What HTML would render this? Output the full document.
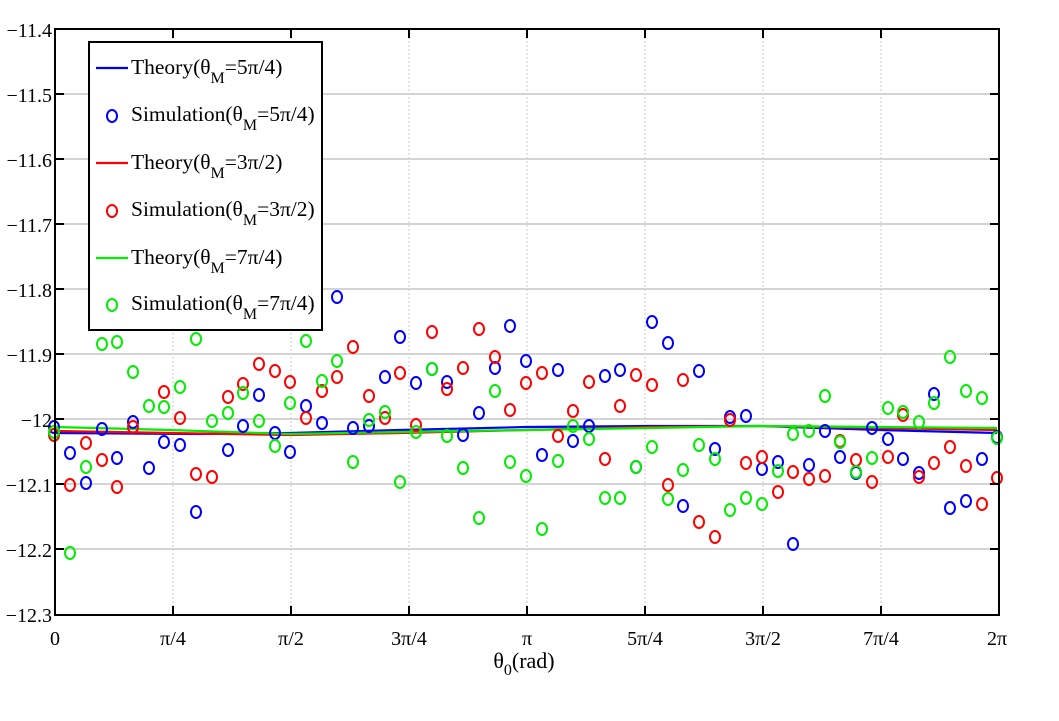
<!DOCTYPE html>
<html><head><meta charset="utf-8"><style>
html,body{margin:0;padding:0;background:#fff;}
svg{display:block;font-family:"Liberation Serif",serif;}
</style></head><body>
<svg width="1059" height="721" viewBox="0 0 1059 721" xmlns="http://www.w3.org/2000/svg">
<rect width="1059" height="721" fill="#fff"/>
<g stroke="#c8c8c8" stroke-width="1" stroke-dasharray="2,2">
<line x1="173" y1="29" x2="173" y2="615"/><line x1="291" y1="29" x2="291" y2="615"/><line x1="409" y1="29" x2="409" y2="615"/><line x1="527" y1="29" x2="527" y2="615"/><line x1="645" y1="29" x2="645" y2="615"/><line x1="763" y1="29" x2="763" y2="615"/><line x1="881" y1="29" x2="881" y2="615"/>
</g>
<g stroke="#d4d4d4" stroke-width="2">
<line x1="55" y1="94" x2="999" y2="94"/><line x1="55" y1="159" x2="999" y2="159"/><line x1="55" y1="224" x2="999" y2="224"/><line x1="55" y1="289" x2="999" y2="289"/><line x1="55" y1="354" x2="999" y2="354"/><line x1="55" y1="419" x2="999" y2="419"/><line x1="55" y1="484" x2="999" y2="484"/><line x1="55" y1="549" x2="999" y2="549"/>
</g>
<g fill="none" stroke-width="2.2">
<polyline stroke="#0000ff" points="55,433 200,434 290,433 400,430 527,427 650,426 760,426 880,430 997,433"/>
<polyline stroke="#ff0000" points="55,431 170,433 290,435 400,433 527,430 650,427 760,426 880,428 997,430"/>
<polyline stroke="#00ee00" points="55,427 170,430 290,434 400,432 527,430 650,428 760,426 880,427 997,428"/>
</g>
<g fill="none" stroke="#0000ff" stroke-width="2">
<ellipse cx="54" cy="427" rx="5" ry="6"/><ellipse cx="70" cy="453" rx="5" ry="6"/><ellipse cx="86" cy="483" rx="5" ry="6"/><ellipse cx="102" cy="429" rx="5" ry="6"/><ellipse cx="117" cy="458" rx="5" ry="6"/><ellipse cx="133" cy="422" rx="5" ry="6"/><ellipse cx="149" cy="468" rx="5" ry="6"/><ellipse cx="164" cy="442" rx="5" ry="6"/><ellipse cx="180" cy="445" rx="5" ry="6"/><ellipse cx="196" cy="512" rx="5" ry="6"/><ellipse cx="228" cy="450" rx="5" ry="6"/><ellipse cx="243" cy="426" rx="5" ry="6"/><ellipse cx="259" cy="395" rx="5" ry="6"/><ellipse cx="275" cy="433" rx="5" ry="6"/><ellipse cx="290" cy="452" rx="5" ry="6"/><ellipse cx="306" cy="406" rx="5" ry="6"/><ellipse cx="322" cy="423" rx="5" ry="6"/><ellipse cx="337" cy="297" rx="5" ry="6"/><ellipse cx="353" cy="428" rx="5" ry="6"/><ellipse cx="369" cy="426" rx="5" ry="6"/><ellipse cx="385" cy="377" rx="5" ry="6"/><ellipse cx="400" cy="337" rx="5" ry="6"/><ellipse cx="416" cy="383" rx="5" ry="6"/><ellipse cx="432" cy="369" rx="5" ry="6"/><ellipse cx="447" cy="382" rx="5" ry="6"/><ellipse cx="463" cy="435" rx="5" ry="6"/><ellipse cx="479" cy="413" rx="5" ry="6"/><ellipse cx="495" cy="368" rx="5" ry="6"/><ellipse cx="510" cy="326" rx="5" ry="6"/><ellipse cx="526" cy="361" rx="5" ry="6"/><ellipse cx="542" cy="455" rx="5" ry="6"/><ellipse cx="558" cy="370" rx="5" ry="6"/><ellipse cx="573" cy="441" rx="5" ry="6"/><ellipse cx="589" cy="426" rx="5" ry="6"/><ellipse cx="605" cy="376" rx="5" ry="6"/><ellipse cx="620" cy="370" rx="5" ry="6"/><ellipse cx="636" cy="467" rx="5" ry="6"/><ellipse cx="652" cy="322" rx="5" ry="6"/><ellipse cx="668" cy="343" rx="5" ry="6"/><ellipse cx="683" cy="506" rx="5" ry="6"/><ellipse cx="699" cy="371" rx="5" ry="6"/><ellipse cx="715" cy="449" rx="5" ry="6"/><ellipse cx="730" cy="417" rx="5" ry="6"/><ellipse cx="746" cy="416" rx="5" ry="6"/><ellipse cx="762" cy="469" rx="5" ry="6"/><ellipse cx="778" cy="462" rx="5" ry="6"/><ellipse cx="793" cy="544" rx="5" ry="6"/><ellipse cx="809" cy="465" rx="5" ry="6"/><ellipse cx="825" cy="431" rx="5" ry="6"/><ellipse cx="840" cy="457" rx="5" ry="6"/><ellipse cx="856" cy="473" rx="5" ry="6"/><ellipse cx="872" cy="428" rx="5" ry="6"/><ellipse cx="888" cy="439" rx="5" ry="6"/><ellipse cx="903" cy="459" rx="5" ry="6"/><ellipse cx="919" cy="473" rx="5" ry="6"/><ellipse cx="934" cy="394" rx="5" ry="6"/><ellipse cx="950" cy="508" rx="5" ry="6"/><ellipse cx="966" cy="501" rx="5" ry="6"/><ellipse cx="982" cy="459" rx="5" ry="6"/><ellipse cx="997" cy="437" rx="5" ry="6"/>
</g>
<g fill="none" stroke="#ff0000" stroke-width="2">
<ellipse cx="54" cy="435" rx="5" ry="6"/><ellipse cx="70" cy="485" rx="5" ry="6"/><ellipse cx="86" cy="443" rx="5" ry="6"/><ellipse cx="102" cy="460" rx="5" ry="6"/><ellipse cx="117" cy="487" rx="5" ry="6"/><ellipse cx="133" cy="427" rx="5" ry="6"/><ellipse cx="164" cy="392" rx="5" ry="6"/><ellipse cx="180" cy="418" rx="5" ry="6"/><ellipse cx="196" cy="474" rx="5" ry="6"/><ellipse cx="212" cy="477" rx="5" ry="6"/><ellipse cx="228" cy="397" rx="5" ry="6"/><ellipse cx="243" cy="384" rx="5" ry="6"/><ellipse cx="259" cy="364" rx="5" ry="6"/><ellipse cx="275" cy="371" rx="5" ry="6"/><ellipse cx="290" cy="382" rx="5" ry="6"/><ellipse cx="306" cy="418" rx="5" ry="6"/><ellipse cx="322" cy="391" rx="5" ry="6"/><ellipse cx="337" cy="377" rx="5" ry="6"/><ellipse cx="353" cy="347" rx="5" ry="6"/><ellipse cx="369" cy="396" rx="5" ry="6"/><ellipse cx="385" cy="418" rx="5" ry="6"/><ellipse cx="400" cy="373" rx="5" ry="6"/><ellipse cx="416" cy="425" rx="5" ry="6"/><ellipse cx="432" cy="332" rx="5" ry="6"/><ellipse cx="447" cy="389" rx="5" ry="6"/><ellipse cx="463" cy="368" rx="5" ry="6"/><ellipse cx="479" cy="329" rx="5" ry="6"/><ellipse cx="495" cy="357" rx="5" ry="6"/><ellipse cx="510" cy="410" rx="5" ry="6"/><ellipse cx="526" cy="383" rx="5" ry="6"/><ellipse cx="542" cy="373" rx="5" ry="6"/><ellipse cx="558" cy="436" rx="5" ry="6"/><ellipse cx="573" cy="411" rx="5" ry="6"/><ellipse cx="589" cy="382" rx="5" ry="6"/><ellipse cx="605" cy="459" rx="5" ry="6"/><ellipse cx="620" cy="406" rx="5" ry="6"/><ellipse cx="636" cy="375" rx="5" ry="6"/><ellipse cx="652" cy="385" rx="5" ry="6"/><ellipse cx="668" cy="485" rx="5" ry="6"/><ellipse cx="683" cy="380" rx="5" ry="6"/><ellipse cx="699" cy="522" rx="5" ry="6"/><ellipse cx="715" cy="537" rx="5" ry="6"/><ellipse cx="730" cy="420" rx="5" ry="6"/><ellipse cx="746" cy="463" rx="5" ry="6"/><ellipse cx="762" cy="457" rx="5" ry="6"/><ellipse cx="778" cy="492" rx="5" ry="6"/><ellipse cx="793" cy="472" rx="5" ry="6"/><ellipse cx="809" cy="479" rx="5" ry="6"/><ellipse cx="825" cy="476" rx="5" ry="6"/><ellipse cx="840" cy="441" rx="5" ry="6"/><ellipse cx="856" cy="460" rx="5" ry="6"/><ellipse cx="872" cy="482" rx="5" ry="6"/><ellipse cx="888" cy="457" rx="5" ry="6"/><ellipse cx="903" cy="415" rx="5" ry="6"/><ellipse cx="919" cy="477" rx="5" ry="6"/><ellipse cx="934" cy="463" rx="5" ry="6"/><ellipse cx="950" cy="447" rx="5" ry="6"/><ellipse cx="966" cy="466" rx="5" ry="6"/><ellipse cx="982" cy="504" rx="5" ry="6"/><ellipse cx="997" cy="478" rx="5" ry="6"/>
</g>
<g fill="none" stroke="#00ee00" stroke-width="2">
<ellipse cx="54" cy="432" rx="5" ry="6"/><ellipse cx="70" cy="553" rx="5" ry="6"/><ellipse cx="86" cy="467" rx="5" ry="6"/><ellipse cx="102" cy="344" rx="5" ry="6"/><ellipse cx="117" cy="342" rx="5" ry="6"/><ellipse cx="133" cy="372" rx="5" ry="6"/><ellipse cx="149" cy="406" rx="5" ry="6"/><ellipse cx="164" cy="407" rx="5" ry="6"/><ellipse cx="180" cy="387" rx="5" ry="6"/><ellipse cx="196" cy="339" rx="5" ry="6"/><ellipse cx="212" cy="421" rx="5" ry="6"/><ellipse cx="228" cy="413" rx="5" ry="6"/><ellipse cx="243" cy="393" rx="5" ry="6"/><ellipse cx="259" cy="421" rx="5" ry="6"/><ellipse cx="275" cy="446" rx="5" ry="6"/><ellipse cx="290" cy="403" rx="5" ry="6"/><ellipse cx="306" cy="341" rx="5" ry="6"/><ellipse cx="322" cy="381" rx="5" ry="6"/><ellipse cx="337" cy="361" rx="5" ry="6"/><ellipse cx="353" cy="462" rx="5" ry="6"/><ellipse cx="369" cy="420" rx="5" ry="6"/><ellipse cx="385" cy="412" rx="5" ry="6"/><ellipse cx="400" cy="482" rx="5" ry="6"/><ellipse cx="416" cy="432" rx="5" ry="6"/><ellipse cx="432" cy="369" rx="5" ry="6"/><ellipse cx="447" cy="436" rx="5" ry="6"/><ellipse cx="463" cy="468" rx="5" ry="6"/><ellipse cx="479" cy="518" rx="5" ry="6"/><ellipse cx="495" cy="391" rx="5" ry="6"/><ellipse cx="510" cy="462" rx="5" ry="6"/><ellipse cx="526" cy="476" rx="5" ry="6"/><ellipse cx="542" cy="529" rx="5" ry="6"/><ellipse cx="558" cy="461" rx="5" ry="6"/><ellipse cx="573" cy="426" rx="5" ry="6"/><ellipse cx="589" cy="439" rx="5" ry="6"/><ellipse cx="605" cy="498" rx="5" ry="6"/><ellipse cx="620" cy="498" rx="5" ry="6"/><ellipse cx="636" cy="467" rx="5" ry="6"/><ellipse cx="652" cy="447" rx="5" ry="6"/><ellipse cx="668" cy="499" rx="5" ry="6"/><ellipse cx="683" cy="470" rx="5" ry="6"/><ellipse cx="699" cy="445" rx="5" ry="6"/><ellipse cx="715" cy="459" rx="5" ry="6"/><ellipse cx="730" cy="510" rx="5" ry="6"/><ellipse cx="746" cy="498" rx="5" ry="6"/><ellipse cx="762" cy="504" rx="5" ry="6"/><ellipse cx="778" cy="471" rx="5" ry="6"/><ellipse cx="793" cy="434" rx="5" ry="6"/><ellipse cx="809" cy="431" rx="5" ry="6"/><ellipse cx="825" cy="396" rx="5" ry="6"/><ellipse cx="840" cy="442" rx="5" ry="6"/><ellipse cx="856" cy="472" rx="5" ry="6"/><ellipse cx="872" cy="458" rx="5" ry="6"/><ellipse cx="888" cy="408" rx="5" ry="6"/><ellipse cx="903" cy="412" rx="5" ry="6"/><ellipse cx="919" cy="422" rx="5" ry="6"/><ellipse cx="934" cy="403" rx="5" ry="6"/><ellipse cx="950" cy="357" rx="5" ry="6"/><ellipse cx="966" cy="391" rx="5" ry="6"/><ellipse cx="982" cy="398" rx="5" ry="6"/><ellipse cx="997" cy="438" rx="5" ry="6"/>
</g>
<rect x="55" y="29" width="944" height="586" fill="none" stroke="#000" stroke-width="2"/>
<g stroke="#000" stroke-width="2">
<line x1="55" y1="94" x2="64" y2="94"/><line x1="55" y1="159" x2="64" y2="159"/><line x1="55" y1="224" x2="64" y2="224"/><line x1="55" y1="289" x2="64" y2="289"/><line x1="55" y1="354" x2="64" y2="354"/><line x1="55" y1="419" x2="64" y2="419"/><line x1="55" y1="484" x2="64" y2="484"/><line x1="55" y1="549" x2="64" y2="549"/>
<line x1="990" y1="94" x2="999" y2="94"/><line x1="990" y1="159" x2="999" y2="159"/><line x1="990" y1="224" x2="999" y2="224"/><line x1="990" y1="289" x2="999" y2="289"/><line x1="990" y1="354" x2="999" y2="354"/><line x1="990" y1="419" x2="999" y2="419"/><line x1="990" y1="484" x2="999" y2="484"/><line x1="990" y1="549" x2="999" y2="549"/>
<line x1="173" y1="29" x2="173" y2="38"/><line x1="291" y1="29" x2="291" y2="38"/><line x1="409" y1="29" x2="409" y2="38"/><line x1="527" y1="29" x2="527" y2="38"/><line x1="645" y1="29" x2="645" y2="38"/><line x1="763" y1="29" x2="763" y2="38"/><line x1="881" y1="29" x2="881" y2="38"/>
<line x1="173" y1="606" x2="173" y2="615"/><line x1="291" y1="606" x2="291" y2="615"/><line x1="409" y1="606" x2="409" y2="615"/><line x1="527" y1="606" x2="527" y2="615"/><line x1="645" y1="606" x2="645" y2="615"/><line x1="763" y1="606" x2="763" y2="615"/><line x1="881" y1="606" x2="881" y2="615"/>
</g>
<g font-size="20" fill="#000" text-anchor="end">
<text x="52" y="37">−11.4</text><text x="52" y="102">−11.5</text><text x="52" y="167">−11.6</text><text x="52" y="232">−11.7</text><text x="52" y="297">−11.8</text><text x="52" y="362">−11.9</text><text x="52" y="427">−12</text><text x="52" y="492">−12.1</text><text x="52" y="557">−12.2</text><text x="52" y="622">−12.3</text>
</g>
<g font-size="20" fill="#000" text-anchor="middle">
<text x="55" y="645">0</text><text x="173" y="645">π/4</text><text x="291" y="645">π/2</text><text x="409" y="645">3π/4</text><text x="527" y="645">π</text><text x="645" y="645">5π/4</text><text x="763" y="645">3π/2</text><text x="881" y="645">7π/4</text><text x="997" y="645">2π</text>
<text x="524" y="668" font-size="22">θ<tspan font-size="16" dy="7">0</tspan><tspan dy="-7">(rad)</tspan></text>
</g>
<rect x="89" y="42" width="233" height="288" fill="#fff" stroke="#000" stroke-width="2"/>
<g font-size="21.5" fill="#000">
<line x1="96" y1="68" x2="128" y2="68" stroke="#0000ff" stroke-width="2.2"/>
<text x="131" y="74">Theory(θ<tspan font-size="16" dy="9">M</tspan><tspan dy="-9">=5π/4)</tspan></text>
<ellipse cx="112" cy="116" rx="5" ry="6" fill="none" stroke="#0000ff" stroke-width="2"/>
<text x="131" y="121">Simulation(θ<tspan font-size="16" dy="9">M</tspan><tspan dy="-9">=5π/4)</tspan></text>
<line x1="96" y1="163" x2="128" y2="163" stroke="#ff0000" stroke-width="2.2"/>
<text x="131" y="169">Theory(θ<tspan font-size="16" dy="9">M</tspan><tspan dy="-9">=3π/2)</tspan></text>
<ellipse cx="112" cy="211" rx="5" ry="6" fill="none" stroke="#ff0000" stroke-width="2"/>
<text x="131" y="216">Simulation(θ<tspan font-size="16" dy="9">M</tspan><tspan dy="-9">=3π/2)</tspan></text>
<line x1="96" y1="258" x2="128" y2="258" stroke="#00ee00" stroke-width="2.2"/>
<text x="131" y="264">Theory(θ<tspan font-size="16" dy="9">M</tspan><tspan dy="-9">=7π/4)</tspan></text>
<ellipse cx="112" cy="305" rx="5" ry="6" fill="none" stroke="#00ee00" stroke-width="2"/>
<text x="131" y="310">Simulation(θ<tspan font-size="16" dy="9">M</tspan><tspan dy="-9">=7π/4)</tspan></text>
</g>
</svg>
</body></html>
